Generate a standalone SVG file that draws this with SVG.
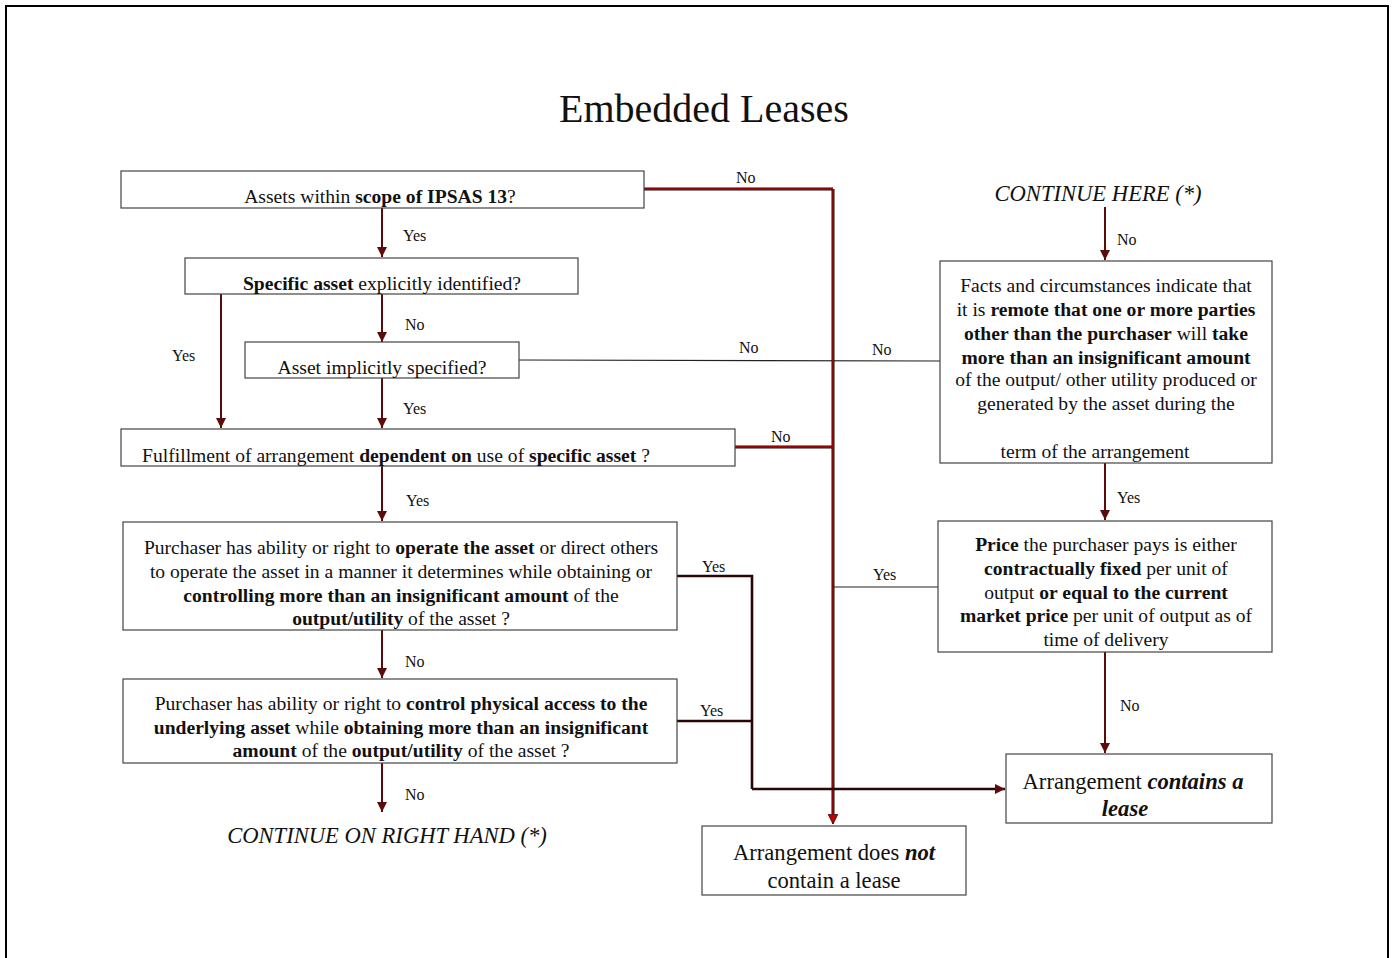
<svg xmlns="http://www.w3.org/2000/svg" width="1393" height="958" viewBox="0 0 1393 958">
  <style>
    text { font-family: "Liberation Serif", "Times New Roman", serif; fill: #111; }
    .box { fill: #fff; stroke: #444; stroke-width: 1.2; }
    .t { font-size: 19.6px; text-anchor: middle; }
    .big { font-size: 22.6px; text-anchor: middle; }
    .lbl { font-size: 16px; }
    .b { font-weight: bold; }
    .i { font-style: italic; }
    .flow { stroke: #5a0b0b; stroke-width: 2; fill: none; }
    .thin { stroke: #222; stroke-width: 1.2; fill: none; }
    .edge { stroke: #111; stroke-width: 3; fill: none; }
    .core { stroke: #c00000; stroke-width: 1.4; fill: none; }
    .join { stroke: #2a0505; stroke-width: 2.6; fill: none; }
  </style>
  <defs>
    <marker id="ah" viewBox="0 0 10 10" refX="10" refY="5" markerWidth="5" markerHeight="5" orient="auto" markerUnits="strokeWidth">
      <path d="M0,0 L10,5 L0,10 z" fill="#5a0b0b"/>
    </marker>
    <marker id="ahr" viewBox="0 0 10 10" refX="10" refY="5" markerWidth="7" markerHeight="7" orient="auto" markerUnits="strokeWidth">
      <path d="M0,0 L10,5 L0,10 z" fill="#c00000" stroke="#300" stroke-width="0.8"/>
    </marker>
    <marker id="ahj" viewBox="0 0 10 10" refX="10" refY="5" markerWidth="4" markerHeight="4" orient="auto" markerUnits="strokeWidth">
      <path d="M0,0 L10,5 L0,10 z" fill="#5a0b0b"/>
    </marker>
  </defs>

  <!-- page frame -->
  <path d="M6,958 V6 H1388 V958" fill="none" stroke="#000" stroke-width="2"/>

  <text x="704" y="122" font-size="40" text-anchor="middle">Embedded Leases</text>

  <!-- connectors -->
  <g id="connectors">
    <!-- main column -->
    <line class="flow" x1="382" y1="208" x2="382" y2="257" marker-end="url(#ah)"/>
    <line class="flow" x1="382" y1="294" x2="382" y2="342" marker-end="url(#ah)"/>
    <line class="flow" x1="221" y1="294" x2="221" y2="428" marker-end="url(#ah)"/>
    <line class="flow" x1="382" y1="378" x2="382" y2="428" marker-end="url(#ah)"/>
    <line class="flow" x1="382" y1="466" x2="382" y2="521" marker-end="url(#ah)"/>
    <line class="flow" x1="382" y1="630" x2="382" y2="678" marker-end="url(#ah)"/>
    <line class="flow" x1="382" y1="763" x2="382" y2="812" marker-end="url(#ah)"/>

    <!-- right column -->
    <line class="flow" x1="1105" y1="207" x2="1105" y2="260" marker-end="url(#ah)"/>
    <line class="flow" x1="1105" y1="463" x2="1105" y2="520" marker-end="url(#ah)"/>
    <line class="flow" x1="1105" y1="652" x2="1105" y2="753" marker-end="url(#ah)"/>

    <!-- thin "No" / "Yes" side lines -->
    <line class="thin" x1="519" y1="360" x2="940" y2="361"/>
    <line class="thin" x1="833" y1="587" x2="938" y2="587"/>

    <!-- "No" paths to "does not contain a lease" -->
    <path class="edge" d="M644,189 H833 M735,447 H833 M833,189 V814"/>
    <path class="core" d="M644,189 H833 M735,447 H833"/>
    <line class="core" x1="833" y1="189" x2="833" y2="824" marker-end="url(#ahr)"/>

    <!-- "Yes" paths to "contains a lease" -->
    <path class="join" d="M677,576 H752 V789 M677,721 H752"/>
    <line class="join" x1="752" y1="789" x2="1005" y2="789" marker-end="url(#ahj)"/>
  </g>

  <!-- labels -->
  <g id="labels" class="lbl">
    <text x="403" y="241">Yes</text>
    <text x="172" y="361">Yes</text>
    <text x="405" y="330">No</text>
    <text x="403" y="414">Yes</text>
    <text x="406" y="506">Yes</text>
    <text x="405" y="667">No</text>
    <text x="405" y="800">No</text>
    <text x="736" y="183">No</text>
    <text x="739" y="353">No</text>
    <text x="872" y="355">No</text>
    <text x="771" y="442">No</text>
    <text x="702" y="572">Yes</text>
    <text x="700" y="716">Yes</text>
    <text x="873" y="580">Yes</text>
    <text x="1117" y="245">No</text>
    <text x="1117" y="503">Yes</text>
    <text x="1120" y="711">No</text>
  </g>

  <g id="n-scope">
    <rect class="box" x="121" y="171" width="523" height="37"/>
    <text class="t" x="380" y="203">Assets within <tspan class="b">scope of IPSAS 13</tspan>?</text>
  </g>

  <g id="n-explicit">
    <rect class="box" x="185" y="258" width="393" height="36"/>
    <text class="t" x="382" y="290"><tspan class="b">Specific asset</tspan> explicitly identified?</text>
  </g>

  <g id="n-implicit">
    <rect class="box" x="245" y="342" width="274" height="36"/>
    <text class="t" x="382" y="374">Asset implicitly specified?</text>
  </g>

  <g id="n-dependent">
    <rect class="box" x="121" y="429" width="614" height="37"/>
    <text class="t" x="396" y="462">Fulfillment of arrangement <tspan class="b">dependent on</tspan> use of <tspan class="b">specific asset</tspan> ?</text>
  </g>

  <g id="n-operate">
    <rect class="box" x="123" y="522" width="554" height="108"/>
    <text class="t" x="401" y="554">Purchaser has ability or right to <tspan class="b">operate the asset</tspan> or direct others</text>
    <text class="t" x="401" y="578">to operate the asset in a manner it determines while obtaining or</text>
    <text class="t" x="401" y="602"><tspan class="b">controlling more than an insignificant amount</tspan> of the</text>
    <text class="t" x="401" y="625"><tspan class="b">output/utility</tspan> of the asset ?</text>
  </g>

  <g id="n-access">
    <rect class="box" x="123" y="679" width="554" height="84"/>
    <text class="t" x="401" y="710">Purchaser has ability or right to <tspan class="b">control physical access to the</tspan></text>
    <text class="t" x="401" y="734"><tspan class="b">underlying asset</tspan> while <tspan class="b">obtaining more than an insignificant</tspan></text>
    <text class="t" x="401" y="757"><tspan class="b">amount</tspan> of the <tspan class="b">output/utility</tspan> of the asset ?</text>
  </g>

  <g id="n-continue-left">
    <text class="big i" x="387" y="843">CONTINUE ON RIGHT HAND (*)</text>
  </g>

  <g id="n-continue-right">
    <text class="big i" x="1098" y="201">CONTINUE HERE (*)</text>
  </g>

  <g id="n-remote">
    <rect class="box" x="940" y="261" width="332" height="202"/>
    <text class="t" x="1106" y="292">Facts and circumstances indicate that</text>
    <text class="t" x="1106" y="316">it is <tspan class="b">remote that one or more parties</tspan></text>
    <text class="t" x="1106" y="340"><tspan class="b">other than the purchaser</tspan> will <tspan class="b">take</tspan></text>
    <text class="t" x="1106" y="364"><tspan class="b">more than an insignificant amount</tspan></text>
    <text class="t" x="1106" y="386">of the output/ other utility produced or</text>
    <text class="t" x="1106" y="410">generated by the asset during the</text>
    <text class="t" x="1095" y="458">term of the arrangement</text>
  </g>

  <g id="n-price">
    <rect class="box" x="938" y="521" width="334" height="131"/>
    <text class="t" x="1106" y="551"><tspan class="b">Price</tspan> the purchaser pays is either</text>
    <text class="t" x="1106" y="575"><tspan class="b">contractually fixed</tspan> per unit of</text>
    <text class="t" x="1106" y="599">output <tspan class="b">or equal to the current</tspan></text>
    <text class="t" x="1106" y="622"><tspan class="b">market price</tspan> per unit of output as of</text>
    <text class="t" x="1106" y="646">time of delivery</text>
  </g>

  <g id="n-lease">
    <rect class="box" x="1006" y="754" width="266" height="69"/>
    <text class="big" x="1133" y="789">Arrangement <tspan class="b i">contains a</tspan></text>
    <text class="big b i" x="1125" y="816">lease</text>
  </g>

  <g id="n-nolease">
    <rect class="box" x="702" y="826" width="264" height="69"/>
    <text class="big" x="834" y="860">Arrangement does <tspan class="b i">not</tspan></text>
    <text class="big" x="834" y="888">contain a lease</text>
  </g>
</svg>
